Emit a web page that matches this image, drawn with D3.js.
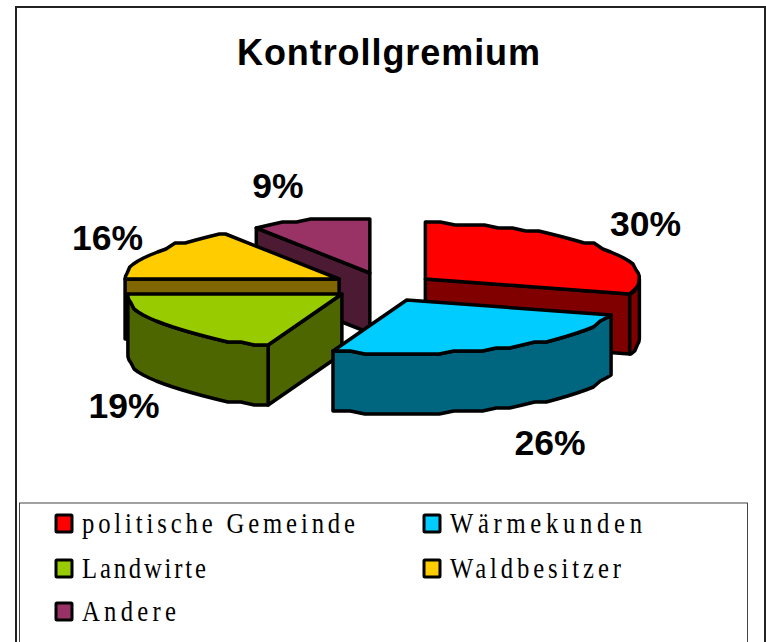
<!DOCTYPE html>
<html>
<head>
<meta charset="utf-8">
<script src="https://cdn.jsdelivr.net/npm/d3@7"></script>
<style>
  html, body { margin: 0; padding: 0; background: #fff; }
  svg { display: block; }
</style>
</head>
<body>
<div id="container"></div>
<script>
/** DATA */
const categories = ["politische Gemeinde", "Wärmekunden", "Landwirte", "Waldbesitzer", "Andere"];
const shares = [29.8, 25.8, 19.4, 16.1, 8.9];
const topColors = ["#ff0000", "#00ccff", "#99cc00", "#ffcc00", "#993366"];
const sideColors = ["#800000", "#006680", "#4d6600", "#806600", "#4d1a33"];

/** LAYOUT */
const width = 766,
  height = 642,
  center = { x: 384, y: 286.5 },
  radius = { x: 214, y: 55 },
  depth = 60,
  explode = { x: 0.24, y: 0.25 },
  rimStep = Math.PI / 45,
  snap = 3;

// label positions and legend text widths, not data
const labelPos = [[645.5, 236], [550, 455], [124, 418], [107.5, 250], [278, 198]];
const legendPos = [
  { col: 0, base: 533, len: 273 },
  { col: 1, base: 533, len: 192 },
  { col: 0, base: 578, len: 124 },
  { col: 1, base: 578, len: 171 },
  { col: 0, base: 621, len: 94 }
];
const legendCols = [55, 423];
const legendSquash = 0.85;

const svg = d3.select("#container").append("svg")
  .attr("width", width)
  .attr("height", height);

/** FRAMES */
svg.append("rect")
  .attr("x", 16).attr("y", 7)
  .attr("width", 749).attr("height", height)
  .attr("fill", "#fff").attr("stroke", "#222").attr("stroke-width", 2);

svg.append("rect")
  .attr("x", 19.5).attr("y", 503)
  .attr("width", 728).attr("height", height)
  .attr("fill", "#fff").attr("stroke", "#444").attr("stroke-width", 1);

svg.append("text")
  .attr("x", 388.5).attr("y", 65)
  .attr("text-anchor", "middle")
  .attr("font-family", "Liberation Sans")
  .attr("font-weight", "bold")
  .attr("font-size", 36)
  .attr("textLength", 303)
  .attr("lengthAdjust", "spacing")
  .text("Kontrollgremium");

/** PIE */
const xScale = d3.scaleLinear().domain([-1, 1]).range([center.x - radius.x, center.x + radius.x]);
const yScale = d3.scaleLinear().domain([-1, 1]).range([center.y - radius.y, center.y + radius.y]);

const arcs = d3.pie().sort(null)(shares);
const line = d3.line().curve(d3.curveLinear);

const snapY = y => Math.round(y / snap) * snap;

// rim point at an angle, measured clockwise from the top
function rimPoint(angle, apex, drop = 0) {
  const px = xScale(apex[0] + Math.sin(angle));
  const py = yScale(apex[1] - Math.cos(angle));
  return [px, snapY(py) + drop];
}

function rimPoints(a0, a1, apex, drop = 0) {
  const pts = [];
  for (let a = a0; a < a1 - 1e-6; a += rimStep) pts.push(rimPoint(a, apex, drop));
  pts.push(rimPoint(a1, apex, drop));
  return pts;
}

const slices = arcs.map((d, i) => {
  const mid = (d.startAngle + d.endAngle) / 2;
  return {
    i,
    a0: d.startAngle,
    a1: d.endAngle,
    apex: [explode.x * Math.sin(mid), -explode.y * Math.cos(mid)]
  };
});

// back to front
const drawOrder = [4, 3, 2, 0, 1];

function drawFace(g, pts, fill) {
  g.append("path")
    .attr("d", line(pts) + "Z")
    .attr("fill", fill)
    .attr("stroke", "#000")
    .attr("stroke-width", 3.5)
    .attr("stroke-linejoin", "round");
}

const pieG = svg.append("g");

drawOrder.forEach(idx => {
  const s = slices[idx];
  const g = pieG.append("g");
  const side = sideColors[s.i];
  const hub = [xScale(s.apex[0]), snapY(yScale(s.apex[1]))];
  const hubLow = [hub[0], hub[1] + depth];

  if (Math.sin(s.a0) < 0) {
    const e = rimPoint(s.a0, s.apex);
    drawFace(g, [hub, e, [e[0], e[1] + depth], hubLow], side);
  }
  if (Math.sin(s.a1) > 0) {
    const e = rimPoint(s.a1, s.apex);
    drawFace(g, [hub, e, [e[0], e[1] + depth], hubLow], side);
  }
  const from = Math.max(s.a0, Math.PI / 2), to = Math.min(s.a1, Math.PI * 1.5);
  if (from < to) {
    const top = rimPoints(from, to, s.apex);
    const low = rimPoints(from, to, s.apex, depth).reverse();
    drawFace(g, top.concat(low), side);
  }
  drawFace(g, [hub].concat(rimPoints(s.a0, s.a1, s.apex)), topColors[s.i]);
});

/** PERCENT LABELS */
svg.selectAll("text.pct")
  .data(shares)
  .join("text")
  .attr("class", "pct")
  .attr("x", (d, i) => labelPos[i][0])
  .attr("y", (d, i) => labelPos[i][1])
  .attr("text-anchor", "middle")
  .attr("font-family", "Liberation Sans")
  .attr("font-weight", "bold")
  .attr("font-size", 35.5)
  .text(d => Math.round(d) + "%");

/** LEGEND */
const legend = svg.selectAll("g.legend")
  .data(categories)
  .join("g")
  .attr("class", "legend");

legend.append("rect")
  .attr("x", (d, i) => legendCols[legendPos[i].col] + 1)
  .attr("y", (d, i) => legendPos[i].base - 18)
  .attr("width", 16)
  .attr("height", 17)
  .attr("rx", 1)
  .attr("fill", (d, i) => topColors[i])
  .attr("stroke", "#000")
  .attr("stroke-width", 3);

legend.append("text")
  .attr("transform", (d, i) => `translate(${legendCols[legendPos[i].col] + 27},${legendPos[i].base}) scale(${legendSquash},1)`)
  .attr("font-family", "Liberation Serif")
  .attr("font-size", 29)
  .attr("textLength", (d, i) => legendPos[i].len / legendSquash)
  .attr("lengthAdjust", "spacing")
  .text(d => d);
</script>
</body>
</html>
